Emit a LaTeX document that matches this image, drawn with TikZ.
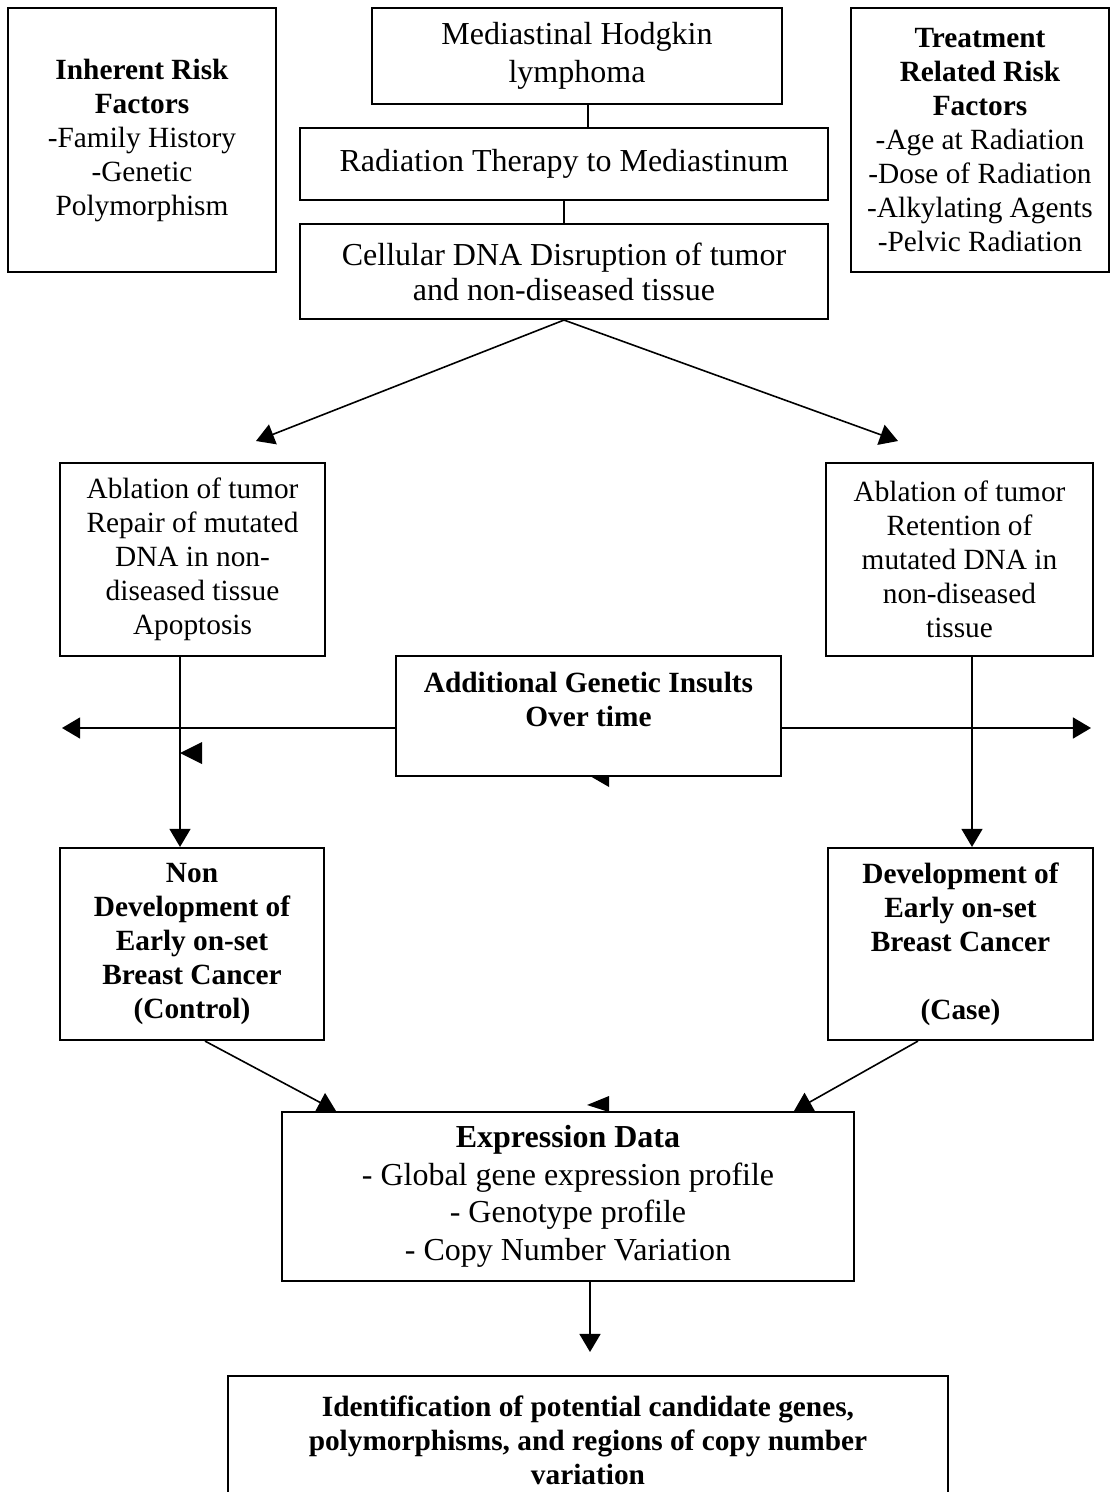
\documentclass[tikz,border=0pt]{standalone}
\usepackage{fontspec}
\setmainfont{Liberation Serif}
\usetikzlibrary{arrows.meta}
\newcommand{\px}{0.375pt}

\begin{document}
\begin{tikzpicture}[
    x=\px, y=-\px,
    line width=0.6pt,
    >={Triangle[length=6.8pt, width=7.9pt]},
    box/.style={rectangle, draw, line width=0.8pt, align=center, inner sep=0pt, font=\fontsize{12pt}{12.75pt}\selectfont},
    side/.style={box, font=\fontsize{11pt}{12.75pt}\selectfont},
    outcome/.style={box, font=\fontsize{11pt}{12.75pt}\selectfont\bfseries}
]
\useasboundingbox (0,0) rectangle (1111,1492);
\clip (0,0) rectangle (1111,1492);

% Risk factors
\node[side, minimum width=268*\px, minimum height=264*\px] (inherent) at (142,140) {\textbf{Inherent Risk}\\ \textbf{Factors}\\ -Family History\\ -Genetic\\ Polymorphism};
\node[side, minimum width=258*\px, minimum height=264*\px] (treatment) at (980,140) {\textbf{Treatment}\\ \textbf{Related Risk}\\ \textbf{Factors}\\ -Age at Radiation\\ -Dose of Radiation\\ -Alkylating Agents\\ -Pelvic Radiation};

% Treatment chain
\node[box, minimum width=410*\px, minimum height=96*\px, font=\fontsize{12pt}{14.2pt}\selectfont] (lymphoma) at (577,56) {Mediastinal Hodgkin\\ lymphoma};
\node[box, minimum width=528*\px, minimum height=72*\px] (radiation) at (564,164) {Radiation Therapy to Mediastinum};
\node[box, minimum width=528*\px, minimum height=95*\px, font=\fontsize{12pt}{13.2pt}\selectfont] (disruption) at (564,271.5) {Cellular DNA Disruption of tumor\\ and non-diseased tissue};

% Tissue response
\node[side, minimum width=265*\px, minimum height=193*\px] (repair) at (192.5,559.5) {Ablation of tumor\\ Repair of mutated\\ DNA in non-\\ diseased tissue\\ Apoptosis};
\node[side, minimum width=267*\px, minimum height=193*\px] (retention) at (959.5,559.5) {Ablation of tumor\\ Retention of\\ mutated DNA in\\ non-diseased\\ tissue};

% Additional insults
\node[outcome, minimum width=385*\px, minimum height=120*\px] (insults) at (588.5,716) {Additional Genetic Insults\\ Over time\\[0pt]};

% Outcomes
\node[outcome, minimum width=264*\px, minimum height=192*\px] (control) at (192,944) {Non\\ Development of\\ Early on-set\\ Breast Cancer\\ (Control)};
\node[outcome, minimum width=265*\px, minimum height=192*\px] (case) at (960.5,944) {Development of\\ Early on-set\\ Breast Cancer\\[12.75pt] (Case)};

% Expression data
\node[box, minimum width=572*\px, minimum height=169*\px, font=\fontsize{12pt}{14.1pt}\selectfont] (expression) at (568,1196.5) {\textbf{Expression Data}\\ - Global gene expression profile\\ - Genotype profile\\ - Copy Number Variation};

% Candidate genes
\node[outcome, minimum width=720*\px, minimum height=128*\px] (candidates) at (588,1440) {Identification of potential candidate genes,\\ polymorphisms, and regions of copy number\\ variation};

% Helper coordinates
\coordinate (topline) at (588,0);
\coordinate (lline) at (180,0);
\coordinate (rline) at (972,0);
\coordinate (hline) at (0,728);
\coordinate (farleft) at (62,728);
\coordinate (farright) at (1091,728);
\coordinate (leftend) at (256,441);
\coordinate (rightend) at (898,441);
\coordinate (cout) at (205,0);
\coordinate (cin) at (336,0);
\coordinate (kout) at (918,0);
\coordinate (kin) at (794,0);
\coordinate (eline) at (590,0);
\coordinate (candend) at (590,1352);

% Connectors
\draw (lymphoma.south -| topline) -- (radiation.north -| topline);
\draw (radiation) -- (disruption);
\draw[->] (disruption.south) -- (leftend);
\draw[->] (disruption.south) -- (rightend);
\draw[->] (repair.south -| lline) -- (control.north -| lline);
\draw[->] (retention.south -| rline) -- (case.north -| rline);
\draw[->] (insults.west |- hline) -- (farleft);
\draw[->] (insults.east |- hline) -- (farright);
\draw[->] (control.south -| cout) -- (expression.north -| cin);
\draw[->] (case.south -| kout) -- (expression.north -| kin);
\draw[->] (expression.south -| eline) -- (candend);

% Stray arrowheads
\fill (180,753) -- (202,742) -- (202,764) -- cycle;
\fill (590,776) -- (609,776) -- (609,787) -- cycle;
\fill (587,1105) -- (609,1096) -- (609,1112) -- cycle;

\end{tikzpicture}
\end{document}
